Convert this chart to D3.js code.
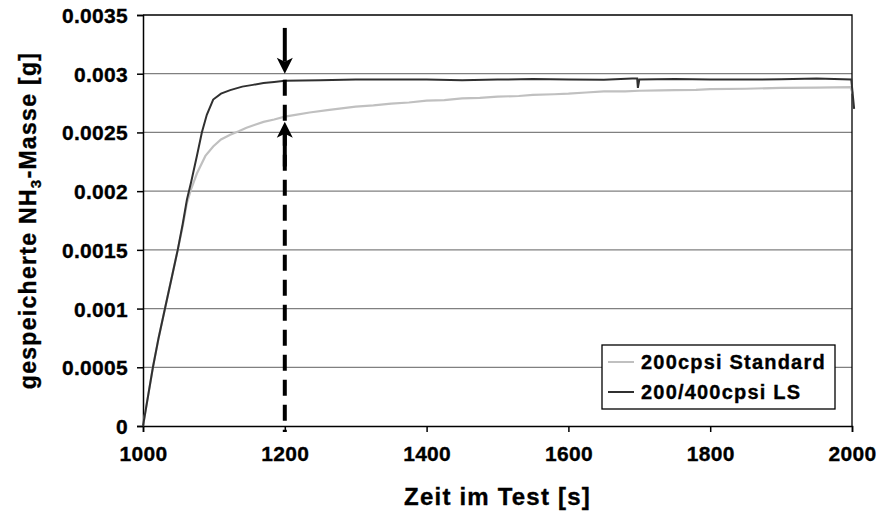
<!DOCTYPE html>
<html>
<head>
<meta charset="utf-8">
<script src="https://cdn.jsdelivr.net/npm/d3@7"></script>
<style>
  body { margin: 0; background: #fff; }
  text { font-family: "Liberation Sans", Arial, sans-serif; font-weight: bold; fill: #000; stroke: #000; stroke-width: 0.35px; }
</style>
</head>
<body>
<div id="chart"></div>
<script>
// data
var yTicks = [0, 0.0005, 0.001, 0.0015, 0.002, 0.0025, 0.003, 0.0035];
var yTickLabels = ["0", "0.0005", "0.001", "0.0015", "0.002", "0.0025", "0.003", "0.0035"];
var xTicks = [1000, 1200, 1400, 1600, 1800, 2000];

var seriesNames = ["200cpsi Standard", "200/400cpsi LS"];

// 200cpsi Standard (light gray)
var tStd = [1000, 1007, 1014, 1022, 1031, 1040, 1049, 1056, 1062, 1068, 1076, 1088, 1099, 1110, 1123, 1135, 1146, 1158, 1170, 1185, 1200, 1215, 1235, 1260, 1280, 1300, 1325, 1350, 1375, 1400, 1425, 1450, 1475, 1500, 1530, 1550, 1580, 1600, 1625, 1650, 1680, 1700, 1730, 1750, 1780, 1800, 1850, 1900, 1950, 1998, 2001];
var vStd = [0, 0.00025, 0.0005, 0.00075, 0.001, 0.00125, 0.0015, 0.0017, 0.0019, 0.00202, 0.00215, 0.0023, 0.00238, 0.00244, 0.00248, 0.00251, 0.00254, 0.002565, 0.00259, 0.00261, 0.002635, 0.00265, 0.00267, 0.00269, 0.002705, 0.00272, 0.00273, 0.002745, 0.002755, 0.00277, 0.002775, 0.00279, 0.002795, 0.002805, 0.00281, 0.00282, 0.002825, 0.00283, 0.00284, 0.00285, 0.00285, 0.002855, 0.002858, 0.00286, 0.002862, 0.002868, 0.002872, 0.00288, 0.002882, 0.002885, 0.00283];

// 200/400cpsi LS (dark)
var tLS = [1000, 1007, 1014, 1022, 1031, 1040, 1049, 1056, 1062, 1068, 1076, 1083, 1090, 1099, 1110, 1123, 1140, 1155, 1170, 1185, 1200, 1250, 1300, 1350, 1400, 1450, 1500, 1550, 1600, 1650, 1690, 1697, 1698, 1700, 1750, 1800, 1850, 1900, 1950, 1999, 2003];
var vLS = [0, 0.00025, 0.0005, 0.00075, 0.001, 0.00125, 0.0015, 0.00172, 0.00193, 0.00208, 0.0023, 0.0025, 0.00265, 0.00278, 0.00283, 0.00286, 0.00289, 0.002905, 0.00292, 0.00293, 0.00294, 0.002945, 0.00295, 0.00295, 0.00295, 0.002945, 0.00295, 0.002955, 0.00295, 0.002948, 0.00296, 0.00296, 0.00288, 0.00295, 0.002955, 0.00295, 0.00295, 0.002952, 0.00296, 0.00295, 0.0027];

// annotation: marker at t = 1200, arrows pointing at the two curves
var markT = 1200;
var arrowDown = [0.00339, 0.003];   // from, to
var arrowUp = [0.00221, 0.00259];   // from, to

var width = 878, height = 517;
var margin = { left: 143, right: 26, top: 15, bottom: 91 };

var svg = d3.select("#chart").append("svg")
    .attr("width", width)
    .attr("height", height);

var x = d3.scaleLinear().domain([1000, 2000]).range([margin.left, width - margin.right]);
var y = d3.scaleLinear().domain([0, 0.0035]).range([height - margin.bottom, margin.top]);

// gridlines
svg.append("g").selectAll("line")
    .data(yTicks.filter(function (d) { return d > 0 && d < 0.0035; }))
    .enter().append("line")
    .attr("x1", x(1000)).attr("x2", x(2000))
    .attr("y1", function (d) { return y(d); })
    .attr("y2", function (d) { return y(d); })
    .attr("stroke", "#808080")
    .attr("stroke-width", 1.3);

// frame top / right
svg.append("path")
    .attr("d", "M" + x(1000) + "," + y(0.0035) + "H" + x(2000) + "V" + y(0))
    .attr("fill", "none")
    .attr("stroke", "#000")
    .attr("stroke-width", 1.3);

// axes
var yAxis = d3.axisLeft(y)
    .tickValues(yTicks)
    .tickSize(6)
    .tickPadding(9)
    .tickFormat(function (d, i) { return yTickLabels[i]; });
var xAxis = d3.axisBottom(x)
    .tickValues(xTicks)
    .tickSize(6)
    .tickPadding(14)
    .tickFormat(d3.format("d"));

var gy = svg.append("g").attr("transform", "translate(" + x(1000) + ",0)").call(yAxis);
var gx = svg.append("g").attr("transform", "translate(0," + y(0) + ")").call(xAxis);
[gy, gx].forEach(function (g) {
    g.select(".domain").attr("stroke", "#000").attr("stroke-width", 1.5);
    g.selectAll(".tick line").attr("stroke", "#000").attr("stroke-width", 1.5);
    g.selectAll(".tick text")
        .style("font-family", "'Liberation Sans', Arial, sans-serif")
        .style("font-weight", "bold")
        .style("font-size", "21px")
        .style("letter-spacing", "0.3px")
        .attr("fill", "#000");
});
gy.selectAll(".tick text").attr("dy", "0.36em");
gx.selectAll(".tick text").attr("dy", "0.71em");

// lines
var line = d3.line()
    .x(function (d) { return x(d[0]); })
    .y(function (d) { return y(d[1]); });

svg.append("path")
    .datum(d3.zip(tStd, vStd))
    .attr("fill", "none")
    .attr("stroke", "#c0c0c0")
    .attr("stroke-width", 2.2)
    .attr("d", line);

svg.append("path")
    .datum(d3.zip(tLS, vLS))
    .attr("fill", "none")
    .attr("stroke", "#303030")
    .attr("stroke-width", 2)
    .attr("d", line);

// dashed marker + arrows
var mx = x(markT);
svg.append("line")
    .attr("x1", mx).attr("x2", mx)
    .attr("y1", y(0.003) + 6).attr("y2", y(0) + 6)
    .attr("stroke", "#000")
    .attr("stroke-width", 4)
    .attr("stroke-dasharray", "16,9");

function arrow(xp, yFrom, yTo) {
    var dir = yTo > yFrom ? 1 : -1;
    var headLen = 16, half = 8;
    svg.append("line")
        .attr("x1", xp).attr("x2", xp)
        .attr("y1", yFrom).attr("y2", yTo - dir * (headLen - 4))
        .attr("stroke", "#000")
        .attr("stroke-width", 4);
    svg.append("path")
        .attr("d", "M" + (xp - half) + "," + (yTo - dir * headLen) +
            "L" + xp + "," + yTo +
            "L" + (xp + half) + "," + (yTo - dir * headLen) +
            "L" + xp + "," + (yTo - dir * (headLen - 4)) + "Z")
        .attr("fill", "#000");
}
arrow(mx, y(arrowDown[0]), y(arrowDown[1]));
arrow(mx, y(arrowUp[0]), y(arrowUp[1]));

// legend
var lg = svg.append("g");
lg.append("rect")
    .attr("x", 602).attr("y", 345)
    .attr("width", 233).attr("height", 64)
    .attr("fill", "#fff")
    .attr("stroke", "#000")
    .attr("stroke-width", 1.3);
var legColors = ["#c0c0c0", "#303030"];
seriesNames.forEach(function (name, i) {
    var ly = 362 + i * 30;
    lg.append("line")
        .attr("x1", 608).attr("x2", 634)
        .attr("y1", ly).attr("y2", ly)
        .attr("stroke", legColors[i])
        .attr("stroke-width", 2);
    lg.append("text")
        .attr("x", 641).attr("y", ly)
        .attr("dy", "0.36em")
        .style("font-size", "20px")
        .style("letter-spacing", "1.2px")
        .text(name);
});

// axis titles
svg.append("text")
    .attr("x", (x(1000) + x(2000)) / 2)
    .attr("y", 505)
    .attr("text-anchor", "middle")
    .style("font-size", "24px")
    .style("letter-spacing", "1.2px")
    .text("Zeit im Test [s]");

var yt = svg.append("text")
    .attr("transform", "translate(36," + ((y(0) + y(0.0035)) / 2) + ") rotate(-90)")
    .attr("text-anchor", "middle")
    .style("font-size", "23px")
    .style("letter-spacing", "1.3px");
yt.append("tspan").text("gespeicherte NH");
yt.append("tspan").attr("dy", 5).style("font-size", "15px").text("3");
yt.append("tspan").attr("dy", -5).text("-Masse [g]");
</script>
</body>
</html>
